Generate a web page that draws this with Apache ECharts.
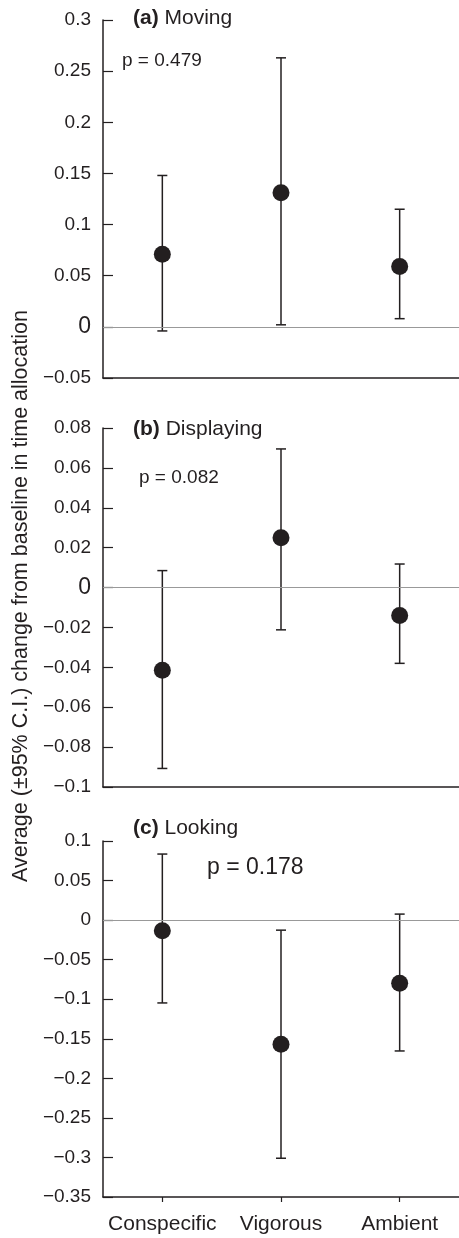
<!DOCTYPE html>
<html>
<head>
<meta charset="utf-8">
<script src="https://cdn.jsdelivr.net/npm/echarts@6/dist/echarts.min.js"></script>
<style>
  html, body { margin: 0; padding: 0; background: #fff; }
  #main { width: 459px; height: 1238px; }
</style>
</head>
<body>
<div id="main"></div>
<script>
// categories and values
var categories = ['Conspecific', 'Vigorous', 'Ambient'];

var movingMean  = [0.071, 0.131, 0.059];
var movingLow   = [-0.004, 0.002, 0.008];
var movingHigh  = [0.148, 0.263, 0.115];

var displayMean = [-0.0415, 0.025, -0.014];
var displayLow  = [-0.0907, -0.0212, -0.038];
var displayHigh = [0.0085, 0.0695, 0.0118];

var lookMean    = [-0.0135, -0.157, -0.0797];
var lookLow     = [-0.1047, -0.301, -0.1654];
var lookHigh    = [0.0835, -0.0127, 0.0076];

var panelTitles = ['(a)', '(b)', '(c)'];
var panelNames  = ['Moving', 'Displaying', 'Looking'];
var pValues     = ['p = 0.479', 'p = 0.082', 'p = 0.178'];

var yLabel = 'Average (\u00b195% C.I.) change from baseline in time allocation';

var ink = '#231f20';
var font = 'Liberation Sans, Arial, Helvetica, sans-serif';

var myChart = echarts.init(document.getElementById('main'));

function tickFmt(bigZero) {
    return function (v) {
        var s = String(+v.toFixed(4)).replace('-', '\u2212');
        if (v === 0 && bigZero) return '{z|0}';
        return s;
    };
}

function makeY(idx, min, max, interval, bigZero) {
    return {
        type: 'value',
        gridIndex: idx,
        min: min,
        max: max,
        interval: interval,
        axisLine: { show: true, lineStyle: { color: ink, width: 1.5 } },
        axisTick: { show: true, inside: true, length: 10, lineStyle: { color: ink, width: 1.2 } },
        splitLine: { show: false },
        axisLabel: {
            color: ink, fontSize: 19, fontFamily: font, margin: 12,
            formatter: tickFmt(bigZero),
            rich: { z: { fontSize: 23, color: ink, fontFamily: font } }
        }
    };
}

function makeX(idx, showLabels) {
    return {
        type: 'category',
        gridIndex: idx,
        data: categories,
        boundaryGap: true,
        axisLine: { show: true, onZero: false, lineStyle: { color: ink, width: 1.5 } },
        axisTick: { show: showLabels, alignWithLabel: true, length: 5, inside: false, lineStyle: { color: ink, width: 1.2 } },
        axisLabel: { show: showLabels, interval: 0, color: ink, fontSize: 21, fontFamily: font, margin: 17 },
        splitLine: { show: false }
    };
}

function errorBars(idx, low, high) {
    var d = categories.map(function (c, i) { return [i, low[i], high[i]]; });
    return {
        type: 'custom',
        xAxisIndex: idx,
        yAxisIndex: idx,
        data: d,
        silent: true,
        z: 3,
        renderItem: function (params, api) {
            var lo = api.coord([api.value(0), api.value(1)]);
            var hi = api.coord([api.value(0), api.value(2)]);
            var w = 5;
            var st = { stroke: ink, lineWidth: 1.5 };
            return {
                type: 'group',
                children: [
                    { type: 'line', shape: { x1: hi[0], y1: hi[1], x2: lo[0], y2: lo[1] }, style: st },
                    { type: 'line', shape: { x1: hi[0] - w, y1: hi[1], x2: hi[0] + w, y2: hi[1] }, style: st },
                    { type: 'line', shape: { x1: lo[0] - w, y1: lo[1], x2: lo[0] + w, y2: lo[1] }, style: st }
                ]
            };
        }
    };
}

function means(idx, vals) {
    return {
        type: 'scatter',
        xAxisIndex: idx,
        yAxisIndex: idx,
        data: vals.map(function (v, i) { return [i, v]; }),
        symbol: 'circle',
        symbolSize: 17,
        itemStyle: { color: ink, opacity: 1 },
        z: 5,
        markLine: {
            silent: true,
            symbol: ['none', 'none'],
            label: { show: false },
            lineStyle: { color: '#999', width: 1, type: 'solid' },
            data: [{ yAxis: 0 }]
        }
    };
}

var grids = [
    { left: 103, width: 360, top: 20, height: 358 },
    { left: 103, width: 360, top: 428, height: 359 },
    { left: 103, width: 360, top: 841, height: 356 }
];

var titlePos = [[133, 17], [133, 428], [133, 827]];
var pPos = [[122, 60, 19], [139, 477, 19], [207, 867, 23]];

var graphics = [];
for (var i = 0; i < 3; i++) {
    graphics.push({
        type: 'text',
        left: titlePos[i][0],
        top: titlePos[i][1] - 9,
        style: {
            text: '{b|' + panelTitles[i] + '} ' + panelNames[i],
            fill: ink,
            font: '21px ' + font,
            rich: { b: { fontWeight: 'bold', fontSize: 21, fontFamily: font, fill: ink } }
        }
    });
    graphics.push({
        type: 'text',
        left: pPos[i][0],
        top: pPos[i][1] - pPos[i][2] * 0.45,
        style: { text: pValues[i], fill: ink, font: pPos[i][2] + 'px ' + font }
    });
}
graphics.push({
    type: 'text',
    x: 21,
    y: 596,
    rotation: Math.PI / 2,
    style: {
        text: yLabel,
        fill: ink,
        font: '21.5px ' + font,
        textAlign: 'center',
        textVerticalAlign: 'middle'
    }
});

var option = {
    backgroundColor: '#fff',
    animation: false,
    grid: grids,
    xAxis: [makeX(0, false), makeX(1, false), makeX(2, true)],
    yAxis: [
        makeY(0, -0.05, 0.3, 0.05, true),
        makeY(1, -0.1, 0.08, 0.02, true),
        makeY(2, -0.35, 0.1, 0.05, false)
    ],
    graphic: graphics,
    series: [
        errorBars(0, movingLow, movingHigh), means(0, movingMean),
        errorBars(1, displayLow, displayHigh), means(1, displayMean),
        errorBars(2, lookLow, lookHigh), means(2, lookMean)
    ]
};

myChart.setOption(option);
</script>
</body>
</html>
